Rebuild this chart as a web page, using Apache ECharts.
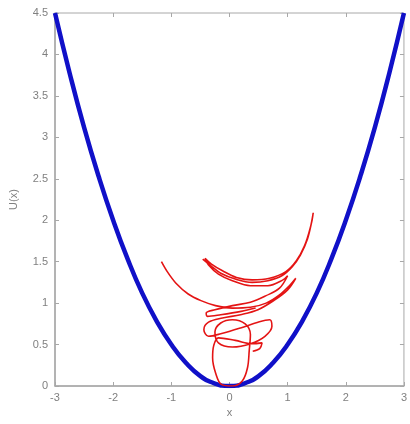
<!DOCTYPE html>
<html>
<head>
<meta charset="utf-8">
<script src="https://cdn.jsdelivr.net/npm/echarts@6/dist/echarts.min.js"></script>
<style>
  html, body { margin: 0; padding: 0; background: #fff; }
  #main { width: 410px; height: 424px; }
</style>
</head>
<body>
<div id="main"></div>
<script>
// tick labels
var xTicks = [-3, -2, -1, 0, 1, 2, 3];
var yTicks = [0, 0.5, 1, 1.5, 2, 2.5, 3, 3.5, 4, 4.5];

// blue potential curve
var blueX = [-3, -2.75, -2.5, -2.25, -2, -1.75, -1.5, -1.25, -1, -0.75, -0.5, -0.25, 0,
             0.25, 0.5, 0.75, 1, 1.25, 1.5, 1.75, 2, 2.25, 2.5, 2.75, 3];
var blueY = [4.5, 3.78, 3.12, 2.53, 2, 1.53, 1.12, 0.78, 0.5, 0.28, 0.12, 0.03, 0,
             0.03, 0.12, 0.28, 0.5, 0.78, 1.12, 1.53, 2, 2.53, 3.12, 3.78, 4.5];

// red trajectory, part 1: long left arc, then down into the loops and the bottom oval
var redAX = [-1.17, -1.07, -0.92, -0.71, -0.49, -0.24, 0.05, 0.36, 0.63, 0.86, 1.03, 1.14,
             1.00, 0.78, 0.49, 0.19, -0.12, -0.36, -0.44, -0.36,
             -0.15, 0.19, 0.49, 0.69, 0.73, 0.61, 0.36, 0.05, -0.19, -0.25,
             -0.15, 0.05, 0.27, 0.36, 0.34, 0.31, 0.22, 0.05, -0.14, -0.24, -0.29, -0.27, -0.19,
             0.10, 0.39, 0.56, 0.52, 0.40];
var redAY = [1.50, 1.38, 1.24, 1.11, 1.03, 0.97, 0.94, 0.95, 1.00, 1.10, 1.21, 1.30,
             1.16, 1.04, 0.92, 0.86, 0.82, 0.77, 0.68, 0.60,
             0.63, 0.70, 0.77, 0.80, 0.72, 0.60, 0.51, 0.47, 0.52, 0.65,
             0.76, 0.80, 0.75, 0.62, 0.43, 0.22, 0.06, 0.00, 0.02, 0.16, 0.34, 0.49, 0.58,
             0.55, 0.51, 0.52, 0.45, 0.42];

// red trajectory, part 2: thick upper arc and the band under it
var redBX = [-0.46, -0.32, -0.15, 0.10, 0.39, 0.66, 0.90, 1.08, 1.22, 1.34, 1.42, 1.44,
             1.39, 1.29, 1.15, 0.97, 0.69, 0.39, 0.12, -0.12, -0.31, -0.42,
             -0.36, -0.19, 0.05, 0.36, 0.66, 0.92, 1.00,
             0.86, 0.63, 0.36, 0.05, -0.25, -0.40, -0.38, -0.15, 0.20, 0.45];
var redBY = [1.53, 1.45, 1.36, 1.29, 1.25, 1.27, 1.33, 1.44, 1.58, 1.77, 2.00, 2.09,
             1.91, 1.69, 1.51, 1.38, 1.30, 1.28, 1.31, 1.39, 1.47, 1.54,
             1.46, 1.35, 1.27, 1.21, 1.21, 1.28, 1.33,
             1.18, 1.09, 1.01, 0.97, 0.92, 0.88, 0.84, 0.86, 0.90, 0.94];

function pairs(xs, ys) {
    var out = [];
    for (var i = 0; i < xs.length; i++) {
        out.push([xs[i], ys[i]]);
    }
    return out;
}

var axisGray = '#a8a8a8';
var textGray = '#808080';
var redStyle = { color: '#e41414', width: 1.6 };

var myChart = echarts.init(document.getElementById('main'));

var option = {
    animation: false,
    grid: {
        left: 52, right: 4, top: 13, bottom: 38,
        show: true,
        borderColor: axisGray,
        borderWidth: 1
    },
    xAxis: [{
        type: 'value',
        min: -3, max: 3, interval: 1,
        name: 'x',
        nameLocation: 'middle',
        nameGap: 20,
        nameTextStyle: { color: textGray, fontSize: 11, fontFamily: 'Liberation Sans' },
        axisLine: { onZero: false, lineStyle: { color: axisGray, width: 1.5 } },
        axisTick: { inside: true, length: 4, lineStyle: { color: axisGray } },
        axisLabel: {
            color: textGray, fontSize: 11, fontFamily: 'Liberation Sans', margin: 6,
            formatter: function(v) { return xTicks.indexOf(v) >= 0 ? String(v) : ''; }
        },
        splitLine: { show: false }
    }, {
        type: 'value',
        position: 'top',
        min: -3, max: 3, interval: 1,
        axisLine: { show: false, onZero: false },
        axisTick: { inside: true, length: 4, lineStyle: { color: axisGray } },
        axisLabel: { show: false },
        splitLine: { show: false }
    }],
    yAxis: [{
        type: 'value',
        min: 0, max: 4.5, interval: 0.5,
        name: 'U(x)',
        nameLocation: 'middle',
        nameGap: 36,
        nameTextStyle: { color: textGray, fontSize: 11, fontFamily: 'Liberation Sans' },
        axisLine: { show: true, onZero: false, lineStyle: { color: axisGray, width: 1.5 } },
        axisTick: { show: true, inside: true, length: 4, lineStyle: { color: axisGray } },
        axisLabel: {
            color: textGray, fontSize: 11, fontFamily: 'Liberation Sans', margin: 7,
            formatter: function(v) { return yTicks.indexOf(v) >= 0 ? String(v) : ''; }
        },
        splitLine: { show: false }
    }, {
        type: 'value',
        position: 'right',
        min: 0, max: 4.5, interval: 0.5,
        axisLine: { show: false, onZero: false },
        axisTick: { show: true, inside: true, length: 4, lineStyle: { color: axisGray } },
        axisLabel: { show: false },
        splitLine: { show: false }
    }],
    series: [{
        type: 'line',
        data: pairs(blueX, blueY),
        smooth: true,
        showSymbol: false,
        lineStyle: { color: '#1010c8', width: 4.5 },
        z: 2
    }, {
        type: 'line',
        data: pairs(redAX, redAY),
        smooth: 0.35,
        showSymbol: false,
        lineStyle: redStyle,
        z: 3
    }, {
        type: 'line',
        data: pairs(redBX, redBY),
        smooth: 0.35,
        showSymbol: false,
        lineStyle: redStyle,
        z: 3
    }]
};
myChart.setOption(option);
</script>
</body>
</html>
